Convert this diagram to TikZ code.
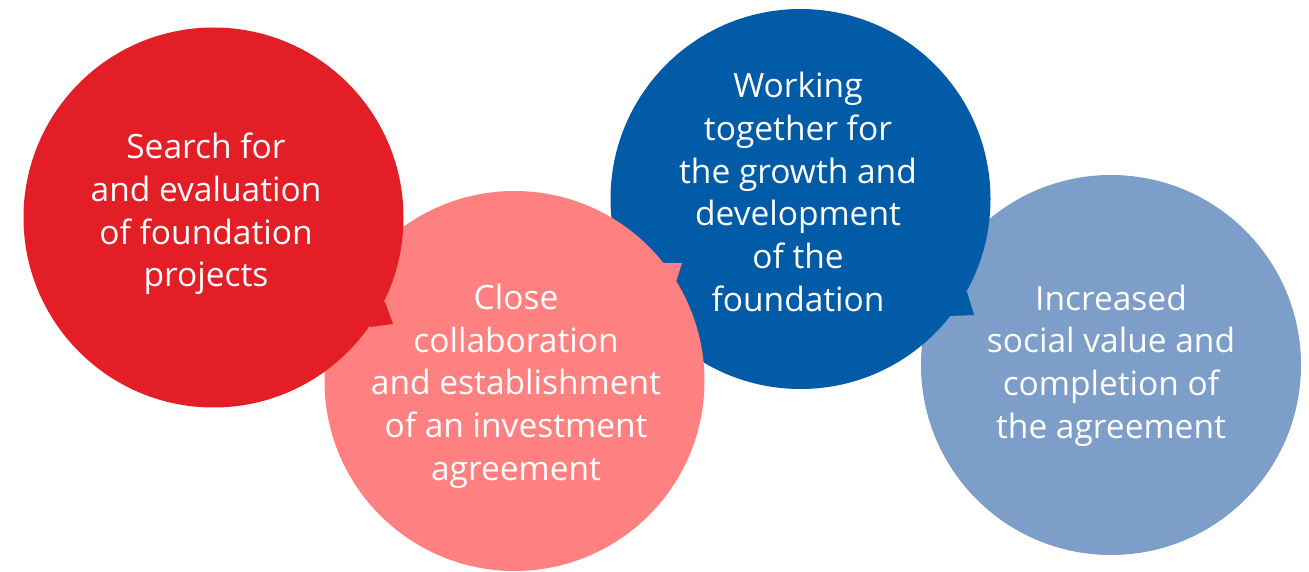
\documentclass[tikz,border=0pt]{standalone}
\usepackage{fontspec}
\setmainfont{Open Sans}
\definecolor{cred}{RGB}{228,30,38}
\definecolor{cpink}{RGB}{255,128,128}
\definecolor{cdblue}{RGB}{2,91,166}
\definecolor{clblue}{RGB}{124,158,200}
\tikzset{
  bubble/.style={circle,minimum size=380pt,inner sep=0pt,draw=none},
  txt/.style={text=white,align=center,font=\fontsize{33.5}{42.7}\selectfont},
}
\begin{document}
\begin{tikzpicture}[x=1pt,y=-1pt]
\useasboundingbox (0,0) rectangle (1309,572);
% light blue (bottom)
\node[bubble,fill=clblue] (c4) at (1111,365) {};
% dark blue
\node[bubble,fill=cdblue] (c3) at (800.5,199) {};
\fill[cdblue] (967,292) -- (974,315) -- (950,316) -- (940,300) -- cycle;
% pink
\node[bubble,fill=cpink] (c2) at (514.5,381) {};
\fill[cpink] (658,263) -- (682,263) -- (675,285) -- (660,290) -- cycle;
% red
\node[bubble,fill=cred] (c1) at (213.5,217.5) {};
\fill[cred] (385,302) -- (393,324) -- (370,327) -- (370,305) -- cycle;
% texts
\node[txt] (t1) at (206,214) {Search for\\and evaluation\\of foundation\\projects};
\node[txt] (t2) at (516,386) {Close\\collaboration\\and establishment\\of an investment\\agreement};
\node[txt] (t3) at (798,192) {Working\\together for\\the growth and\\development\\of the\\foundation};
\node[txt] (t4) at (1111,365.5) {Increased\\social value and\\completion of\\the agreement};
\end{tikzpicture}
\end{document}
